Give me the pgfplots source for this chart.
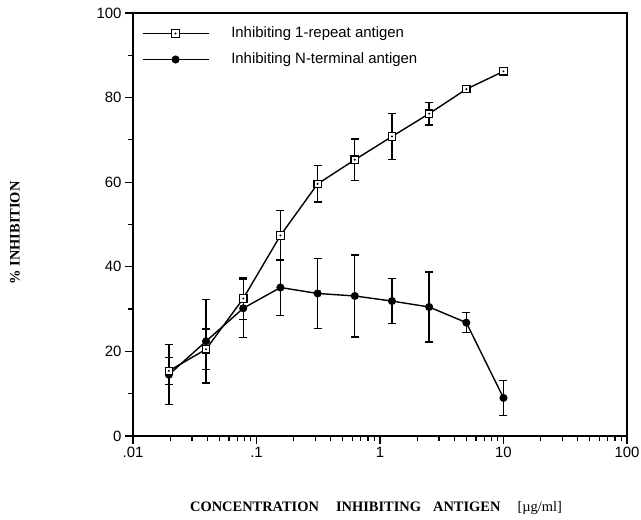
\documentclass[border=0pt]{standalone}
\usepackage{fontspec}
\setmainfont{Liberation Serif}
\setsansfont{Liberation Sans}
\usepackage{pgfplots}
\pgfplotsset{compat=1.18}

% open square with a small dot in it
\pgfdeclareplotmark{sqdot}{%
  \pgfpathrectangle{\pgfpoint{-\pgfplotmarksize}{-\pgfplotmarksize}}{\pgfpoint{2\pgfplotmarksize}{2\pgfplotmarksize}}%
  \pgfsetfillcolor{white}\pgfusepathqfillstroke
  \pgfpathcircle{\pgfpointorigin}{0.3\pgfplotmarksize}%
  \pgfsetfillcolor{black}\pgfusepathqfill
}

\pgfplotstableread{
x        y     e
0.01953  15.4  3.2
0.03906  20.5  4.8
0.078125 32.5  5.0
0.15625  47.4  5.9
0.3125   59.6  4.3
0.625    65.3  4.9
1.25     70.8  5.5
2.5      76.2  2.7
5        82.0  0.8
10       86.2  0
}\repeatag

\pgfplotstableread{
x        y     e
0.01953  14.5  7.1
0.03906  22.4  9.9
0.078125 30.2  6.9
0.15625  35.1  6.6
0.3125   33.7  8.3
0.625    33.1  9.7
1.25     31.9  5.3
2.5      30.5  8.3
5        26.8  2.4
10       9.0   4.1
}\ntermag

\begin{document}
\begin{tikzpicture}
\useasboundingbox (-133bp,-84bp) rectangle (508bp,436bp);
\begin{axis}[
  at={(0,0)}, anchor=south west,
  scale only axis, width=494bp, height=423bp,
  axis lines=box,
  xmode=log, xmin=0.01, xmax=100, ymin=0, ymax=100,
  xtick={0.01,0.1,1,10,100}, xticklabels={.01,.1,1,10,100},
  minor xtick={0.02,0.03,0.04,0.05,0.06,0.07,0.08,0.09,0.2,0.3,0.4,0.5,0.6,0.7,0.8,0.9,2,3,4,5,6,7,8,9,20,30,40,50,60,70,80,90},
  ytick={0,20,40,60,80,100}, minor ytick={10,30,50,70,90},
  tick pos=left, tick align=outside,
  major tick length=8bp, minor tick length=5bp,
  axis line style={line width=1.6bp, black},
  every tick/.style={line width=1.2bp, black},
  /pgf/number format/assume math mode=true,
  tick label style={font=\sffamily\fontsize{15}{17}\selectfont},
  xlabel={\bfseries CONCENTRATION\hspace*{17bp}INHIBITING\hspace*{12bp}ANTIGEN\hspace*{17bp}\mdseries[µg/ml]},
  xlabel style={font=\fontsize{14.5}{16}\selectfont, at={(rel axis cs:0.492,-0.17)}, anchor=center},
  ylabel={\bfseries \% INHIBITION},
  ylabel style={font=\fontsize{14.5}{16}\selectfont, at={(rel axis cs:-0.239,0.48)}, anchor=center},
  legend image code/.code={\draw[mark repeat=2,mark phase=2,#1] plot coordinates {(0bp,0bp)(33bp,0bp)(66bp,0bp)};},
  legend style={draw=none, fill=none, at={(rel axis cs:0.0176,0.9697)}, anchor=north west,
    font=\sffamily\fontsize{15}{17}\selectfont, inner sep=0pt, row sep=11bp, column sep=22bp,
    nodes={inner sep=0pt, text height=11bp, text depth=4bp}},
  legend cell align=left,
  reverse legend,
  error bars/y dir=both, error bars/y explicit,
  error bars/error bar style={line width=1.3bp, black},
  error bars/error mark options={rotate=90, line width=1.3bp, mark size=4bp, black},
]
\addplot[black, line width=1.4bp, mark=*, mark size=3.3bp]
  table[x=x, y=y, y error=e] {\ntermag};
\addlegendentry{Inhibiting N-terminal antigen}
\addplot[black, line width=1.4bp, mark=sqdot, mark size=3.7bp, mark options={line width=1.2bp}]
  table[x=x, y=y, y error=e] {\repeatag};
\addlegendentry{Inhibiting 1-repeat antigen}
\end{axis}
% frame of the plot area, drawn outside the axis clip
\draw[line width=1.6bp, black] (0bp,0bp) rectangle (494bp,423bp);
\end{tikzpicture}
\end{document}
